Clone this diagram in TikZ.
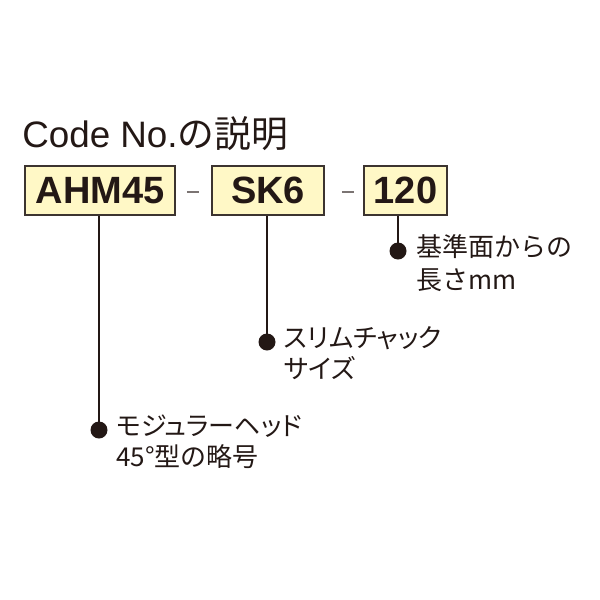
\documentclass[tikz,border=0pt]{standalone}
\usepackage{fontspec}
\setmainfont{Liberation Sans}
\newfontfamily\jp{Noto Sans CJK JP}
\newfontfamily\jpp[RawFeature=+palt]{Noto Sans CJK JP}
\definecolor{ink}{HTML}{231815}
\definecolor{boxfill}{HTML}{FFF8C6}
\definecolor{boxline}{HTML}{3C3430}
\begin{document}
\begin{tikzpicture}[x=0.75pt,y=-0.75pt,
  codebox/.style={draw=boxline,line width=1.3pt,fill=boxfill,minimum height=49*0.75pt,inner sep=0pt,
    font=\fontsize{28.5pt}{30pt}\selectfont\bfseries,text=ink},
  dotn/.style={circle,fill=ink,minimum size=17*0.75pt,inner sep=0pt},
  lead/.style={draw=ink,line width=0.9pt},
  sep/.style={draw=ink!60,line width=1pt},
  lab/.style={anchor=west,inner sep=0pt,text=ink,font=\jp\fontsize{19.5pt}{22pt}\selectfont,
    text height=0.88em,text depth=0.12em},
  labk/.style={lab,font=\jpp\fontsize{19.5pt}{22pt}\selectfont}]
\useasboundingbox (0,0) rectangle (600,600);
\node[anchor=base west,inner sep=0pt,text=ink,font=\fontsize{27.6pt}{30pt}\selectfont] (title) at (22,147) {Code No.{\jp の説明}};
\node[codebox,minimum width=150*0.75pt] (b1) at (100,190.5) {AHM45};
\node[codebox,minimum width=112*0.75pt] (b2) at (268,190.5) {SK6};
\node[codebox,minimum width=83*0.75pt] (b3) at (405.5,190.5) {120};
\draw[sep] ([xshift=11*0.75pt,yshift=-1.5*0.75pt]b1.east) -- ([xshift=-12*0.75pt,yshift=-1.5*0.75pt]b2.west);
\draw[sep] ([xshift=17*0.75pt,yshift=-1.5*0.75pt]b2.east) -- ([xshift=-9*0.75pt,yshift=-1.5*0.75pt]b3.west);
\node[dotn] (d1) at (99,430) {};
\node[dotn] (d2) at (267,342) {};
\node[dotn] (d3) at (398,251) {};
\draw[lead] (d1.center) -- (d1 |- b1.south);
\draw[lead] (d2.center) -- (d2 |- b2.south);
\draw[lead] (d3.center) -- (d3 |- b3.south);
\node[lab] (l3a) at (416,251) {基準面からの};
\node[lab] (l3b) at (416,284) {長さmm};
\node[labk] (l2a) at (284,342) {スリムチャック};
\node[labk] (l2b) at (284,373) {サイズ};
\node[labk] (l1a) at (116,430) {モジュラーヘッド};
\node[lab] (l1b) at (116,461) {45°型の略号};
\end{tikzpicture}
\end{document}
